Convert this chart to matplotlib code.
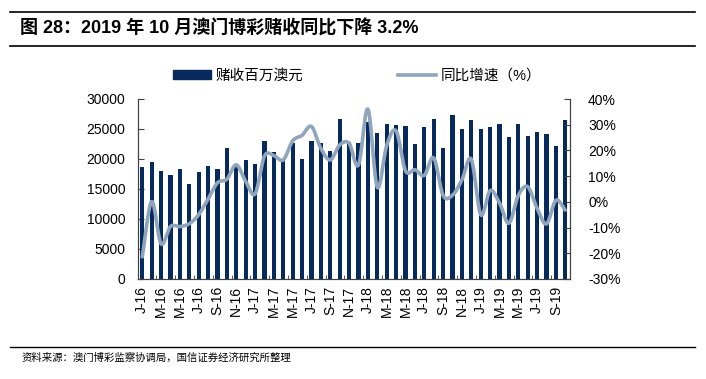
import numpy as np
import matplotlib
matplotlib.use("Agg")
import matplotlib.pyplot as plt
from matplotlib.lines import Line2D
from matplotlib.patches import Patch

plt.rcParams['font.family'] = ['Liberation Sans', 'Noto Sans CJK SC']

# 赌收（百万澳元），2016-01 ~ 2019-10
ggr = [18700, 19500, 17950, 17300, 18350, 15850, 17800, 18850, 18300, 21800, 19200, 19800,
       19250, 23000, 21250, 19700, 22700, 20000, 23000, 22700, 21400, 26650, 22900, 22700,
       26250, 24300, 25900, 25750, 25450, 22550, 25350, 26600, 21900, 27300, 25000, 26550,
       24950, 25400, 25850, 23600, 25900, 23800, 24450, 24250, 22100, 26450]
# 同比增速（%）
yoy = [-21.4, 0.1, -16.3, -9.6, -9.6, -8.5, -5.0, 1.1, 7.4, 8.8, 14.4, 8.0,
       3.1, 17.8, 18.0, 16.3, 23.7, 25.9, 29.3, 20.8, 16.3, 22.1, 22.8, 14.3,
       36.1, 5.7, 21.9, 27.6, 12.1, 12.5, 10.3, 17.1, 2.5, 2.6, 8.5, 16.6,
       -5.0, 4.4, -0.4, -8.3, 2.5, 5.9, -2.5, -8.6, 0.6, -3.2]
tick_labels = ['J-16', 'M-16', 'M-16', 'J-16', 'S-16', 'N-16',
               'J-17', 'M-17', 'M-17', 'J-17', 'S-17', 'N-17',
               'J-18', 'M-18', 'M-18', 'J-18', 'S-18', 'N-18',
               'J-19', 'M-19', 'M-19', 'J-19', 'S-19']

bar_color = '#062a5e'
line_color = '#8FA5BC'
spine_color = '#404040'


def smooth(xs, ys, n=16):
    # catmull-rom through the points, like the excel smoothed line
    xs = np.asarray(xs, float)
    ys = np.asarray(ys, float)
    px = np.concatenate([[2 * xs[0] - xs[1]], xs, [2 * xs[-1] - xs[-2]]])
    py = np.concatenate([[2 * ys[0] - ys[1]], ys, [2 * ys[-1] - ys[-2]]])
    t = np.linspace(0, 1, n, endpoint=False)
    outx, outy = [], []
    for i in range(1, len(px) - 2):
        for p, out in ((px, outx), (py, outy)):
            p0, p1, p2, p3 = p[i - 1], p[i], p[i + 1], p[i + 2]
            out.extend(0.5 * (2 * p1 + (-p0 + p2) * t
                              + (2 * p0 - 5 * p1 + 4 * p2 - p3) * t ** 2
                              + (-p0 + 3 * p1 - 3 * p2 + p3) * t ** 3))
    outx.append(xs[-1])
    outy.append(ys[-1])
    return np.array(outx), np.array(outy)


W, H = 706, 379
fig = plt.figure(figsize=(W / 100, H / 100), dpi=100)
ax = fig.add_axes([138 / W, 1 - 279 / H, 432 / W, 180 / H])

x = np.arange(len(ggr))
ax.bar(x, ggr, width=0.45, color=bar_color, zorder=2)
ax.set_ylim(0, 30000)
ax.set_yticks(range(0, 30001, 5000))
ax.set_xlim(-0.45, len(ggr) - 0.7)
ax.set_xticks(x[::2])
ax.set_xticklabels(tick_labels, rotation=90)
ax.set_xticks(np.arange(1.5, len(ggr), 2), minor=True)
ax.tick_params(axis='x', which='major', length=0, pad=5, labelsize=10)
ax.tick_params(axis='x', which='minor', length=3, direction='in', color=spine_color)
ax.tick_params(axis='y', direction='in', length=4, pad=9, labelsize=10, color=spine_color)
ax.spines['top'].set_visible(False)
for s in ('left', 'right', 'bottom'):
    ax.spines[s].set_color(spine_color)

ax2 = ax.twinx()
sx, sy = smooth(x, yoy)
ax2.plot(sx, sy, color=line_color, lw=2.6, solid_capstyle='round', zorder=3)
ax2.set_ylim(-30, 40)
ax2.set_yticks(range(-30, 41, 10))
ax2.set_yticklabels([f'{v}%' for v in range(-30, 41, 10)])
ax2.tick_params(axis='y', direction='in', length=4, pad=13, labelsize=10, color=spine_color)
ax2.spines['top'].set_visible(False)
for s in ('left', 'right', 'bottom'):
    ax2.spines[s].set_color(spine_color)

handles = [Patch(color=bar_color), Line2D([], [], color=line_color, lw=2.6)]
fig.legend(handles, ['赌收百万澳元', '同比增速（%）'], ncol=2, frameon=False,
           loc='center left', bbox_to_anchor=(160 / W, 1 - 76 / H),
           fontsize=10.5, handlelength=2.6, handleheight=0.55, handletextpad=0.3,
           columnspacing=6.5)

# title and source with separator lines
fig.add_artist(Line2D([10 / W, 695 / W], [1 - 12 / H] * 2, color='black', lw=1.2))
fig.add_artist(Line2D([10 / W, 695 / W], [1 - 46 / H] * 2, color='black', lw=1.2))
fig.add_artist(Line2D([10 / W, 695 / W], [1 - 347 / H] * 2, color='black', lw=1.0))
fig.text(20 / W, 1 - 29 / H, '图 28：2019 年 10 月澳门博彩赌收同比下降 3.2%',
         fontsize=13, fontweight='bold', va='center')
fig.text(22 / W, 1 - 358 / H, '资料来源：澳门博彩监察协调局，国信证券经济研究所整理',
         fontsize=7.5, va='center')

fig.savefig('out.png', dpi=100)
